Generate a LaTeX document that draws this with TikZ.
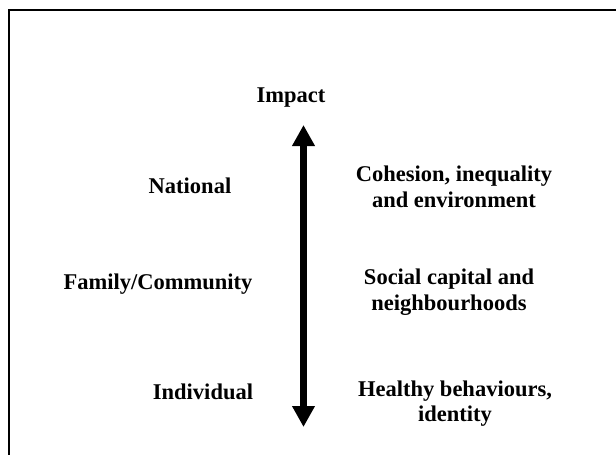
\documentclass[tikz,border=0pt]{standalone}
\usepackage{fontspec}
\setmainfont{Liberation Serif}
\usetikzlibrary{arrows.meta}
\tikzset{
  lbl/.style={font=\fontsize{22.5}{25.5}\selectfont\bfseries, inner sep=0pt, anchor=base, align=center},
  bigarrow/.style={line width=7pt, {Triangle[width=21.5pt,length=21pt]}-{Triangle[width=21.5pt,length=21pt]}},
  frame/.style={line width=1.8pt}
}
\begin{document}
\begin{tikzpicture}[x=1pt,y=-1pt]
\useasboundingbox (0,0) rectangle (616,455);
\clip (0,0) rectangle (616,455);
\draw[frame] (9,10) rectangle (630,470);
\node[lbl] (impact) at (291,102) {Impact};
\node[lbl] (national) at (190,193) {National};
\node[lbl] (family) at (158,289) {Family/Community};
\node[lbl] (individual) at (203,399) {Individual};
\node[lbl] (cohesion) at (454,207) {Cohesion, inequality\\and environment};
\node[lbl] (social) at (449,310) {Social capital and\\neighbourhoods};
\node[lbl] (healthy) at (455,421.5) {Healthy behaviours,\\identity};
\coordinate (top) at (303.5,125);
\coordinate (bottom) at (303.5,427);
\draw[bigarrow] (bottom) -- (top);
\end{tikzpicture}
\end{document}
